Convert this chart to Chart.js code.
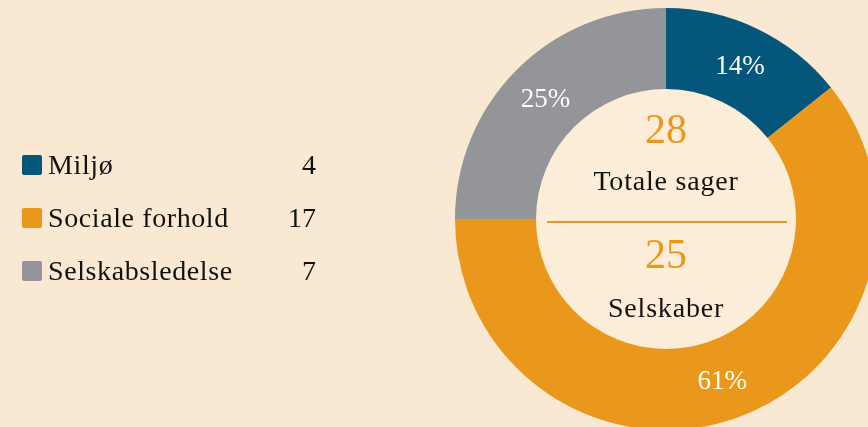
<!DOCTYPE html>
<html>
<head>
<meta charset="utf-8">
<script src="https://cdn.jsdelivr.net/npm/chart.js@4"></script>
<style>
  html, body { margin: 0; padding: 0; background: #FAE9D2; overflow: hidden; width: 868px; height: 427px; }
  #wrap { position: absolute; left: 0; top: 0; width: 880px; height: 430px; }
  #legend { position: absolute; left: 22px; top: 0; font-family: 'Liberation Serif', serif; font-size: 28px; letter-spacing: 0.6px; color: #111; }
  .row { position: absolute; left: 0; width: 294px; height: 30px; }
  .sw { position: absolute; left: 0; top: 5px; width: 20px; height: 20px; border-radius: 2px; }
  .lab { position: absolute; left: 26px; top: 0; line-height: 30px; white-space: nowrap; }
  .val { position: absolute; right: 0; top: 0; line-height: 30px; letter-spacing: 0; }
</style>
</head>
<body>
<div id="wrap"><canvas id="c" width="880" height="430"></canvas></div>
<div id="legend"></div>
<script>
const categories = ['Miljø', 'Sociale forhold', 'Selskabsledelse']
const counts = [4, 17, 7]
const colors = ['#04577A', '#E9981B', '#939598']
const totalCases = 28
const companies = 25

// legend with values on the right
const legend = document.getElementById('legend')
categories.forEach(function (name, i) {
  const row = document.createElement('div')
  row.className = 'row'
  row.style.top = (150 + i * 53) + 'px'
  row.innerHTML = '<div class="sw" style="background:' + colors[i] + '"></div>' +
    '<div class="lab">' + name + '</div><div class="val">' + counts[i] + '</div>'
  legend.appendChild(row)
})

const centerText = {
  id: 'centerText',
  beforeDatasetsDraw (chart) {
    const meta = chart.getDatasetMeta(0)
    const arc = meta.data[0]
    const ctx = chart.ctx
    ctx.save()
    ctx.fillStyle = '#FCEDD8'
    ctx.beginPath()
    ctx.arc(arc.x, arc.y, arc.innerRadius, 0, Math.PI * 2)
    ctx.fill()
    ctx.restore()
  },
  afterDatasetsDraw (chart) {
    const meta = chart.getDatasetMeta(0)
    const ctx = chart.ctx
    const total = counts.reduce((a, b) => a + b, 0)
    ctx.save()
    ctx.textAlign = 'center'
    ctx.textBaseline = 'alphabetic'
    // percentage labels
    ctx.fillStyle = '#FFFFFF'
    ctx.font = '27px "Liberation Serif"'
    meta.data.forEach(function (el, i) {
      const p = el.tooltipPosition()
      ctx.fillText(Math.round(counts[i] / total * 100) + '%', p.x, p.y + 9)
    })
    const a = meta.data[0]
    const cx = a.x, cy = a.y
    ctx.fillStyle = '#E9981B'
    ctx.font = '42px "Liberation Serif"'
    ctx.fillText(String(totalCases), cx, cy - 76)
    ctx.fillText(String(companies), cx, cy + 49)
    ctx.fillStyle = '#111'
    ctx.font = '28px "Liberation Serif"'
    ctx.letterSpacing = '0.8px'
    ctx.fillText('Totale sager', cx, cy - 29)
    ctx.fillText('Selskaber', cx, cy + 98)
    ctx.letterSpacing = '0px'
    ctx.strokeStyle = '#E9981B'
    ctx.lineWidth = 2
    ctx.beginPath()
    ctx.moveTo(cx - 119, cy + 3)
    ctx.lineTo(cx + 121, cy + 3)
    ctx.stroke()
    ctx.restore()
  }
}

new Chart(document.getElementById('c'), {
  type: 'doughnut',
  data: {
    labels: categories,
    datasets: [{
      data: counts,
      backgroundColor: colors,
      borderWidth: 0
    }]
  },
  options: {
    responsive: false,
    animation: false,
    cutout: '61.6%',
    layout: { padding: { left: 455, right: 3, top: 8, bottom: 0 } },
    plugins: {
      legend: { display: false },
      tooltip: { enabled: false }
    }
  },
  plugins: [centerText]
})
</script>
</body>
</html>
